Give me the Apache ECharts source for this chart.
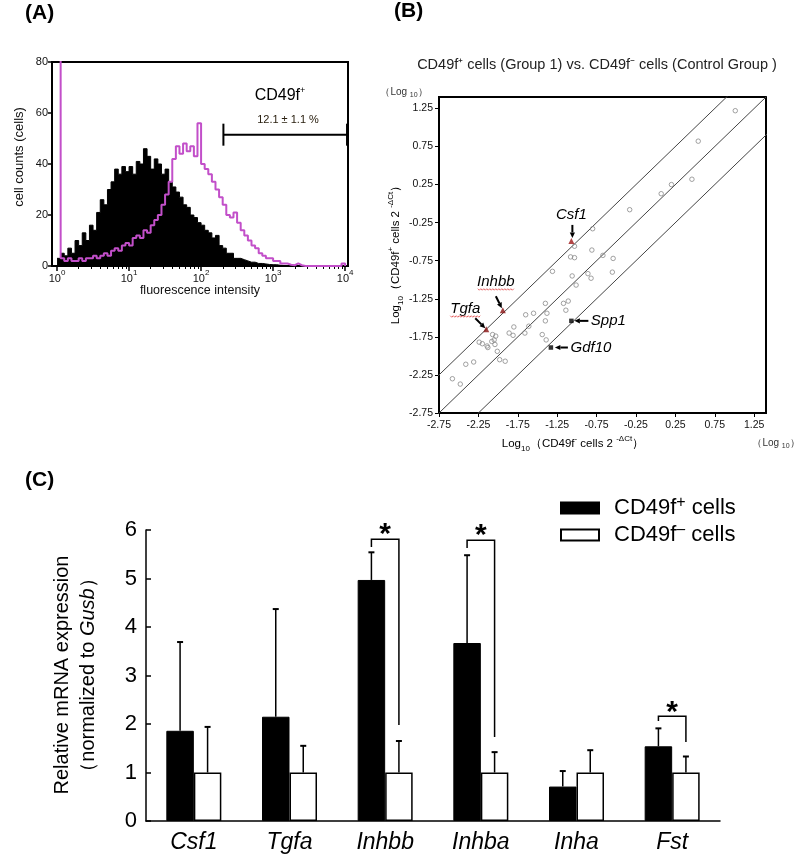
<!DOCTYPE html>
<html><head><meta charset="utf-8">
<script src="https://cdn.jsdelivr.net/npm/echarts@6/dist/echarts.min.js"></script>
<style>html,body{margin:0;padding:0;background:#fff}#c{width:799px;height:856px}</style>
</head><body><div id="c"></div>
<script>
const FONT = '"Liberation Sans", Arial, Helvetica, sans-serif';

// ---------------- Panel A : flow cytometry histogram ----------------
const histLog = [0.00,0.05,0.10,0.15,0.20,0.25,0.30,0.35,0.40,0.45,0.50,0.55,0.60,0.65,0.70,0.75,0.80,0.85,0.90,0.95,
  1.00,1.05,1.10,1.15,1.20,1.25,1.30,1.35,1.40,1.45,1.50,1.55,1.60,1.65,1.70,1.75,1.80,1.85,1.90,1.95,
  2.00,2.05,2.10,2.15,2.20,2.25,2.30,2.35,2.40,2.45,2.50,2.55,2.60,2.65,2.70,2.75,2.80,2.85,2.90,2.95,
  3.00,3.05,3.10,3.15,3.20,3.25,3.30,3.35,3.40,3.45,3.50,3.55,3.60,3.65,3.70,3.75,3.80,3.85,3.90,3.95,4.00];
const histControl = [3,5,4,7,5,10,8,13,10,16, 14,21,26,24,30,33,38,36,39,37, 39,36,41,40,46,43,38,42,40,36,
  38,33,31,29,27,24,23,20,19,17, 16,14,13,11,12,8,7,5,5,3, 3,2.5,2,1.5,1.5,1,1,0.8,0.6,0.5,
  0.5,0.3,0.2,0,0,0,0,0,0,0, 0,0,0,0,0,0,0,0,0,0, 0];
const histCD49f = [90,3,2,3,2,2,3,2,3,3, 4,3,4,5,4,6,7,6,8,9, 8,11,12,11,14,13,16,18,20,24,
  28,33,42,47,44,48,45,47,43,56, 40,38,36,33,30,27,24,20,19,21, 17,14,12,10,8,7,5,4,3,3,
  2,2,1,1,0.5,0.3,1,0.3,0,0, 0,0,0,0,0,0,0,0,0,1, 0];
const aDecades = [0,1,2,3,4];
const gate = [2.31, 4.03, 51.5];   // log start, log end, level (counts)
const gateText = '12.1 \u00b1 1.1 %';

// ---------------- Panel B : scatter of log10 expression ----------------
const bTicks = [-2.75,-2.25,-1.75,-1.25,-0.75,-0.25,0.25,0.75,1.25];
const bControl = [1.01,0.54,0.46,0.20,0.07,-0.33,-0.54,-0.55,-0.80,-1.03,-1.08,-1.03,-0.81,-0.67,-1.31,-1.06,-0.86,-0.82,-1.01,
  -1.40,-1.17,-1.11,-1.14,-1.65,-1.55,-1.38,-1.40,-1.61,-1.80,-1.86,-1.81,-1.66,-1.44,-1.39,-2.07,-2.03,-2.08,-2.04,-2.05,
  -2.24,-2.20,-2.14,-2.13,-2.01,-1.98,-1.91,-2.41,-2.31,-2.58,-2.48];
const bGroup1 = [1.22,0.82,0.32,0.25,0.13,-0.08,-0.72,-0.90,-0.33,-0.56,-0.70,-0.71,-0.61,-0.68,-0.89,-0.95,-0.92,-0.98,-1.07,
  -1.31,-1.31,-1.28,-1.40,-1.46,-1.44,-1.44,-1.54,-1.61,-1.62,-1.70,-1.73,-1.70,-1.72,-1.79,-1.72,-1.74,-1.81,-1.85,-1.79,
  -1.82,-1.84,-1.87,-1.89,-1.94,-2.05,-2.07,-2.11,-2.08,-2.30,-2.37];
const hlGenes = ['Csf1','Inhbb','Tgfa','Spp1','Gdf10'];
const hlControl = [-1.07,-1.94,-2.15,-1.07,-1.33];
const hlGroup1 = [-0.49,-1.40,-1.65,-1.54,-1.89];
const foldOffsets = [0.5, 0, -0.5];

// ---------------- Panel C : qPCR bar chart ----------------
const genes = ['Csf1','Tgfa','Inhbb','Inhba','Inha','Fst'];
const posMean = [1.86,2.15,4.97,3.67,0.71,1.54];
const posErr  = [1.83,2.22,0.57,1.81,0.32,0.37];
const negMean = [1,1,1,1,1,1];
const negErr  = [0.94,0.55,0.65,0.42,0.46,0.33];
const sigGenes = ['Inhbb','Inhba','Fst'];
const sigTop = [5.81,5.79,2.16];
const sigLeftEnd = [5.65,5.63,2.06];
const sigRightEnd = [1.98,1.73,1.63];
const POS_NAME = 'CD49f+ cells', NEG_NAME = 'CD49f- cells';

// ---------------- styles ----------------
const BAR_W = 27.5;
const annoStyle = {
  Csf1:  {tx:0,  ty:-26, sx:1,  sy:-16, ex:1,  ey:-3, squiggle:false, tw:0},
  Inhbb: {tx:-7, ty:-28, sx:-7, sy:-14, ex:-1, ey:-2, squiggle:true, tw:36},
  Tgfa:  {tx:-21,ty:-20, sx:-11,sy:-11, ex:-1, ey:-1, squiggle:true, tw:30},
  Spp1:  {tx:37, ty:0,   sx:17, sy:0,   ex:3,  ey:0,  squiggle:false, tw:0},
  Gdf10: {tx:40, ty:0,   sx:17, sy:0,   ex:4,  ey:0,  squiggle:false, tw:0}
};
const hlSymbol = {Csf1:'triangle', Inhbb:'triangle', Tgfa:'triangle', Spp1:'rect', Gdf10:'rect'};
const hlColor = {Csf1:'#a01818', Inhbb:'#8a1010', Tgfa:'#8a1010', Spp1:'#000', Gdf10:'#000'};

const aMinor = [];
aDecades.slice(0,4).forEach(d => { for (let k = 2; k <= 9; k++) aMinor.push(d + Math.log10(k)); });

const richSmall = {
  t:  {fontSize:11.5, fontFamily:FONT, lineHeight:18, color:'#222'},
  sub:{fontSize:8, fontFamily:FONT, verticalAlign:'bottom', lineHeight:9, color:'#222'},
  sup:{fontSize:8, fontFamily:FONT, verticalAlign:'top', lineHeight:9, color:'#222'}
};

const chart = echarts.init(document.getElementById('c'), null, {renderer:'canvas'});

const option = {
  animation:false,
  backgroundColor:'#fff',
  textStyle:{fontFamily:FONT, color:'#000'},
  grid:[
    {left:52, top:62, width:296, height:204, show:true, borderColor:'#000', borderWidth:2, backgroundColor:'rgba(0,0,0,0)'},
    {left:439, top:97, width:327, height:316, show:true, borderColor:'#000', borderWidth:2, backgroundColor:'rgba(0,0,0,0)'},
    {left:146, top:530, width:574, height:291}
  ],
  xAxis:[
    {gridIndex:0, type:'value', min:-0.07, max:4.04, position:'bottom',
     axisLine:{show:true, onZero:false, lineStyle:{color:'#000', width:2}},
     axisTick:{show:true, customValues:aDecades, length:5, lineStyle:{color:'#000', width:1.5}},
     axisLabel:{customValues:aDecades, margin:3, color:'#111',
       formatter: v => '{b|10}{s|' + Math.round(v) + '}',
       rich:{b:{fontSize:11, fontFamily:FONT, lineHeight:20, color:'#111'}, s:{fontSize:8, fontFamily:FONT, verticalAlign:'top', lineHeight:8, color:'#111'}}},
     splitLine:{show:false}},
    {gridIndex:0, type:'value', min:-0.07, max:4.04, position:'bottom',
     axisLine:{show:false, onZero:false}, axisTick:{show:true, customValues:aMinor, length:3, lineStyle:{color:'#000', width:1}},
     axisLabel:{show:false}, splitLine:{show:false}},
    {gridIndex:1, type:'value', min:-2.75, max:1.40, position:'bottom',
     axisLine:{show:true, onZero:false, lineStyle:{color:'#000', width:2}},
     axisTick:{show:true, customValues:bTicks, length:4, lineStyle:{color:'#000', width:1}},
     axisLabel:{customValues:bTicks, margin:7, fontSize:10.5, color:'#111', formatter: v => v.toFixed(2)},
     splitLine:{show:false}},
    {gridIndex:2, type:'category', data:genes, boundaryGap:true,
     axisLine:{show:true, onZero:false, lineStyle:{color:'#000', width:1.5}},
     axisTick:{show:false},
     axisLabel:{fontSize:23, fontStyle:'italic', color:'#000', margin:10, fontFamily:FONT},
     splitLine:{show:false}}
  ],
  yAxis:[
    {gridIndex:0, type:'value', min:0, max:80, interval:20,
     axisLine:{show:true, onZero:false, lineStyle:{color:'#000', width:2}},
     axisTick:{show:true, length:4, lineStyle:{color:'#000', width:1.5}},
     axisLabel:{fontSize:11, margin:4, color:'#111'},
     splitLine:{show:false}},
    {gridIndex:1, type:'value', min:-2.75, max:1.40,
     axisLine:{show:true, onZero:false, lineStyle:{color:'#000', width:2}},
     axisTick:{show:true, customValues:bTicks, length:4, lineStyle:{color:'#000', width:1}},
     axisLabel:{customValues:bTicks, margin:6, fontSize:10.5, color:'#111', formatter: v => v.toFixed(2)},
     splitLine:{show:false}},
    {gridIndex:2, type:'value', min:0, max:6, interval:1,
     axisLine:{show:true, onZero:false, lineStyle:{color:'#000', width:1.5}},
     axisTick:{show:true, inside:true, length:5, lineStyle:{color:'#000', width:1.5}},
     axisLabel:{fontSize:22, margin:9, color:'#000'},
     splitLine:{show:false}}
  ],
  legend:{
    data:[POS_NAME, NEG_NAME], orient:'vertical', left:555, top:490,
    itemWidth:38, itemHeight:11, itemGap:3, icon:'rect', selectedMode:false,
    formatter: n => n === POS_NAME ? '{t|CD49f}{s|+}{t| cells}' : '{t|CD49f}{s|\u2013}{t| cells}',
    textStyle:{fontSize:22, padding:[0,0,0,10], rich:{
      t:{fontSize:22, fontFamily:FONT, lineHeight:26, color:'#000'},
      s:{fontSize:16, fontFamily:FONT, verticalAlign:'top', lineHeight:15, color:'#000'}}}
  },
  series:[
    // ---- Panel A
    {type:'line', name:'control', xAxisIndex:0, yAxisIndex:0, step:'end', symbol:'none',
     data: histLog.map((x,i) => [x, histControl[i]]),
     lineStyle:{color:'#000', width:1}, areaStyle:{color:'#000', opacity:1}, z:2},
    {type:'line', name:'CD49f', xAxisIndex:0, yAxisIndex:0, step:'end', symbol:'none',
     data: histLog.map((x,i) => [x, histCD49f[i]]),
     lineStyle:{color:'#c24fc9', width:2}, z:3},
    {type:'custom', xAxisIndex:0, yAxisIndex:0, data:[gate], z:4,
     renderItem:(params, api) => {
       const a = api.coord([api.value(0), api.value(2)]);
       const b = api.coord([api.value(1), api.value(2)]);
       const st = {stroke:'#000', lineWidth:2};
       return {type:'group', children:[
         {type:'line', shape:{x1:a[0], y1:a[1], x2:b[0], y2:b[1]}, style:st},
         {type:'line', shape:{x1:a[0], y1:a[1]-11, x2:a[0], y2:a[1]+11}, style:st},
         {type:'line', shape:{x1:b[0], y1:b[1]-11, x2:b[0], y2:b[1]+11}, style:{stroke:'#000', lineWidth:2.5}}
       ]};
     }},
    // ---- Panel B
    ...foldOffsets.map(off => ({type:'line', xAxisIndex:2, yAxisIndex:1, symbol:'none', silent:true,
      data:[[-3, -3 + off], [2, 2 + off]], lineStyle:{color:'#444', width:1}, z:2})),
    {type:'scatter', xAxisIndex:2, yAxisIndex:1, symbol:'circle', symbolSize:4.5,
     data: bControl.map((x,i) => [x, bGroup1[i]]),
     itemStyle:{color:'rgba(255,255,255,0)', borderColor:'#8a8a8a', borderWidth:1}, z:3},
    {type:'scatter', xAxisIndex:2, yAxisIndex:1,
     data: hlGenes.map((g,i) => ({value:[hlControl[i], hlGroup1[i]], symbol:hlSymbol[g], symbolSize: hlSymbol[g]==='rect'?4.5:6, itemStyle:{color:hlColor[g]}})),
     z:5},
    {type:'custom', xAxisIndex:2, yAxisIndex:1, z:6,
     data: hlGenes.map((g,i) => [hlControl[i], hlGroup1[i]]),
     renderItem:(params, api) => {
       const g = hlGenes[params.dataIndex];
       const s = annoStyle[g];
       const p = api.coord([api.value(0), api.value(1)]);
       const x1 = p[0]+s.sx, y1 = p[1]+s.sy, x2 = p[0]+s.ex, y2 = p[1]+s.ey;
       const dx = x2-x1, dy = y2-y1, L = Math.hypot(dx,dy), ux = dx/L, uy = dy/L;
       const hl = 5.5, hw = 2.6;
       const bx = x2-ux*hl, by = y2-uy*hl;
       const ch = [
         {type:'line', shape:{x1:x1, y1:y1, x2:bx, y2:by}, style:{stroke:'#000', lineWidth:2}},
         {type:'polygon', shape:{points:[[x2,y2],[bx-uy*hw, by+ux*hw],[bx+uy*hw, by-ux*hw]]}, style:{fill:'#000'}},
         {type:'text', x:p[0]+s.tx, y:p[1]+s.ty, style:{text:g, font:'italic 15px '+FONT, fill:'#000', align:'center', verticalAlign:'middle'}}
       ];
       if (s.squiggle) {
         const pts = []; const x0 = p[0]+s.tx-s.tw/2, yy = p[1]+s.ty+7;
         for (let k = 0; k <= s.tw; k += 1.5) pts.push([x0+k, yy + ((Math.round(k/1.5))%2 ? 1 : -0.5)]);
         ch.push({type:'polyline', shape:{points:pts}, style:{stroke:'#e04040', lineWidth:0.8, fill:null}});
       }
       return {type:'group', children:ch};
     }},
    // ---- Panel C
    {type:'bar', name:POS_NAME, xAxisIndex:3, yAxisIndex:2, data:posMean, barWidth:BAR_W, barGap:'0%',
     itemStyle:{color:'#000', borderColor:'#000', borderWidth:1}, z:2},
    {type:'bar', name:NEG_NAME, xAxisIndex:3, yAxisIndex:2, data:negMean, barWidth:BAR_W, barGap:'0%',
     itemStyle:{color:'#fff', borderColor:'#000', borderWidth:1.5}, z:2},
    {type:'custom', xAxisIndex:3, yAxisIndex:2, z:4,
     data: genes.map((g,i) => [i, posMean[i], posMean[i]+posErr[i], -1]).concat(genes.map((g,i) => [i, negMean[i], negMean[i]+negErr[i], 1])),
     renderItem:(params, api) => {
       const base = api.coord([api.value(0), api.value(1)]);
       const top = api.coord([api.value(0), api.value(2)]);
       const x = base[0] + api.value(3) * BAR_W / 2;
       const st = {stroke:'#000', lineWidth:1.5};
       return {type:'group', children:[
         {type:'line', shape:{x1:x, y1:base[1], x2:x, y2:top[1]}, style:st},
         {type:'line', shape:{x1:x-3, y1:top[1], x2:x+3, y2:top[1]}, style:{stroke:'#000', lineWidth:2}}
       ]};
     }},
    {type:'custom', xAxisIndex:3, yAxisIndex:2, z:5,
     data: sigGenes.map((g,i) => [genes.indexOf(g), sigTop[i], sigLeftEnd[i], sigRightEnd[i]]),
     renderItem:(params, api) => {
       const idx = api.value(0);
       const c = api.coord([idx, api.value(1)]);
       const l = api.coord([idx, api.value(2)]);
       const r = api.coord([idx, api.value(3)]);
       const xl = c[0] - BAR_W/2, xr = c[0] + BAR_W/2;
       return {type:'group', children:[
         {type:'polyline', shape:{points:[[xl,l[1]],[xl,c[1]],[xr,c[1]],[xr,r[1]]]}, style:{stroke:'#000', lineWidth:1.5, fill:null}},
         {type:'text', x:c[0], y:c[1]-4, style:{text:'*', font:'bold 30px '+FONT, fill:'#000', align:'center', verticalAlign:'middle'}}
       ]};
     }}
  ],
  graphic:[
    {type:'text', left:25, top:3, style:{text:'(A)', font:'bold 21px '+FONT, fill:'#000'}},
    {type:'text', left:394, top:1, style:{text:'(B)', font:'bold 21px '+FONT, fill:'#000'}},
    {type:'text', left:25, top:470, style:{text:'(C)', font:'bold 21px '+FONT, fill:'#000'}},
    // Panel A texts
    {type:'text', x:19, y:157, rotation:Math.PI/2, style:{text:'cell counts (cells)', font:'13px '+FONT, fill:'#111', align:'center', verticalAlign:'middle'}},
    {type:'text', x:200, y:291, style:{text:'fluorescence intensity', font:'12.5px '+FONT, fill:'#111', align:'center', verticalAlign:'middle'}},
    {type:'text', x:280, y:96, style:{text:'{t|CD49f}{s|+}', align:'center', verticalAlign:'middle',
      rich:{t:{fontSize:16, fontFamily:FONT, lineHeight:20, fill:'#000'}, s:{fontSize:9, fontFamily:FONT, verticalAlign:'top', lineHeight:9, fill:'#000'}}}},
    {type:'text', x:288, y:120, style:{text:gateText, font:'11px '+FONT, fill:'#2a2010', align:'center', verticalAlign:'middle'}},
    // Panel B texts
    {type:'text', x:597, y:65, style:{text:'CD49f\u207a cells (Group 1) vs. CD49f\u207b cells (Control Group )', font:'14.5px '+FONT, fill:'#222', align:'center', verticalAlign:'middle'}},
    {type:'text', x:404, y:92, style:{text:'{t|\uff08Log }{sub|10}{t|\uff09}', align:'center', verticalAlign:'middle', rich:{
      t:{fontSize:10, fontFamily:FONT, lineHeight:14, fill:'#333'}, sub:{fontSize:7, fontFamily:FONT, verticalAlign:'bottom', lineHeight:8, fill:'#333'}}}},
    {type:'text', x:776, y:443, style:{text:'{t|\uff08Log }{sub|10}{t|\uff09}', align:'center', verticalAlign:'middle', rich:{
      t:{fontSize:10, fontFamily:FONT, lineHeight:14, fill:'#333'}, sub:{fontSize:7, fontFamily:FONT, verticalAlign:'bottom', lineHeight:8, fill:'#333'}}}},
    {type:'text', x:573, y:444, style:{text:'{t|Log}{sub|10}{t|\uff08CD49f}{sup|-}{t| cells 2 }{sup|-\u0394Ct}{t|\uff09}', align:'center', verticalAlign:'middle', rich:richSmall}},
    {type:'text', x:396, y:252, rotation:Math.PI/2, style:{text:'{t|Log}{sub|10}{t|\uff08CD49f}{sup|+}{t| cells 2 }{sup|-\u0394Ct}{t|\uff09}', align:'center', verticalAlign:'middle', rich:richSmall}},
    // Panel C y-axis name
    {type:'text', x:75, y:675, rotation:Math.PI/2, style:{
      text:'{a|Relative mRNA expression}\n{a|\uff08normalized to }{i|Gusb}{a|\uff09}', align:'center', verticalAlign:'middle',
      rich:{a:{fontSize:20, fontFamily:FONT, lineHeight:26, fill:'#000'}, i:{fontSize:20, fontFamily:FONT, fontStyle:'italic', lineHeight:26, fill:'#000'}}}}
  ]
};
chart.setOption(option);
</script></body></html>
